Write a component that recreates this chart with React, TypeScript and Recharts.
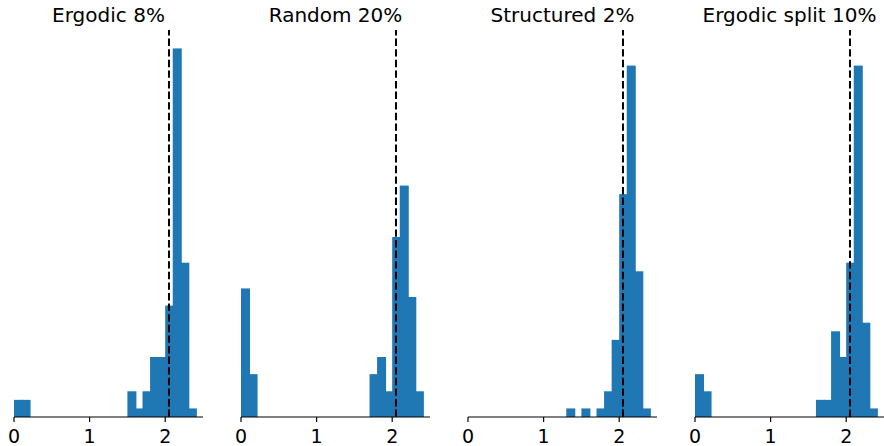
import { BarChart, Bar, XAxis, YAxis, ReferenceLine } from 'recharts'

// bin centres, 0.1 wide, from 0 to 2.4
const binCenters = [
  0.05, 0.15, 0.25, 0.35, 0.45, 0.55, 0.65, 0.75, 0.85, 0.95, 1.05, 1.15,
  1.25, 1.35, 1.45, 1.55, 1.65, 1.75, 1.85, 1.95, 2.05, 2.15, 2.25, 2.35,
]

const ergodic8 = [2, 2, 0, 0, 0, 0, 0, 0, 0, 0, 0, 0, 0, 0, 0, 3, 1, 3, 7, 7, 13, 43, 18, 1]
const random20 = [15, 5, 0, 0, 0, 0, 0, 0, 0, 0, 0, 0, 0, 0, 0, 0, 0, 5, 7, 3, 21, 27, 14, 3]
const structured2 = [0, 0, 0, 0, 0, 0, 0, 0, 0, 0, 0, 0, 0, 1, 0, 1, 0, 1, 3, 9, 26, 41, 17, 1]
const ergodicSplit10 = [5, 3, 0, 0, 0, 0, 0, 0, 0, 0, 0, 0, 0, 0, 0, 0, 2, 2, 10, 7, 18, 41, 11, 1]

const titles = ['Ergodic 8%', 'Random 20%', 'Structured 2%', 'Ergodic split 10%']
const series = [ergodic8, random20, structured2, ergodicSplit10]
const xTicks = [0, 1, 2]
const refValue = 2.05

const FONT = '"DejaVu Sans", sans-serif'
const BLUE = '#1f77b4'
const PLOT_W = 189
const PAD = 12
const panelLefts = [14, 241, 468, 695]
const yMax = 43 * 1.05

// recharts floors the bar width to whole pixels, which leaves thin seams
// between histogram bins; stretch each rect by a pixel to close them
function HistRect(props: any) {
  const { x, y, width, height, fill } = props
  if (!height || height <= 0) return null
  return <rect x={x} y={y} width={width + 1} height={height} fill={fill} />
}

function Panel({ title, counts, left }: { title: string; counts: number[]; left: number }) {
  const data = binCenters.map((x, i) => ({ x, count: counts[i] }))
  return (
    <div style={{ position: 'absolute', left: left - PAD, top: 0 }}>
      <div
        style={{
          position: 'absolute',
          left: PAD,
          width: PLOT_W,
          top: 5,
          lineHeight: '20px',
          fontSize: 20,
          textAlign: 'center',
          whiteSpace: 'nowrap',
          color: '#000',
        }}
      >
        {title}
      </div>
      <BarChart
        width={PLOT_W + PAD * 2}
        height={446}
        data={data}
        margin={{ top: 30, right: PAD, bottom: 0, left: PAD }}
        barCategoryGap={0}
        barGap={0}
      >
        <XAxis
          dataKey="x"
          type="number"
          domain={[0, 2.5]}
          ticks={xTicks}
          interval={0}
          height={29}
          tickSize={5}
          tickMargin={8}
          axisLine={{ stroke: '#000', strokeWidth: 1.2 }}
          tickLine={{ stroke: '#000', strokeWidth: 1.2 }}
          tick={{ fill: '#000', fontSize: 19, fontFamily: FONT }}
        />
        <YAxis hide domain={[0, yMax]} />
        <Bar dataKey="count" fill={BLUE} shape={HistRect} isAnimationActive={false} />
        <ReferenceLine x={refValue} stroke="#000" strokeWidth={2} strokeDasharray="7.4 3.2" />
      </BarChart>
    </div>
  )
}

export default function App() {
  return (
    <div
      style={{
        position: 'absolute',
        top: 0,
        left: 0,
        width: 884,
        height: 446,
        overflow: 'hidden',
        background: '#fff',
        fontFamily: FONT,
      }}
    >
      {series.map((counts, i) => (
        <Panel key={titles[i]} title={titles[i]} counts={counts} left={panelLefts[i]} />
      ))}
    </div>
  )
}
